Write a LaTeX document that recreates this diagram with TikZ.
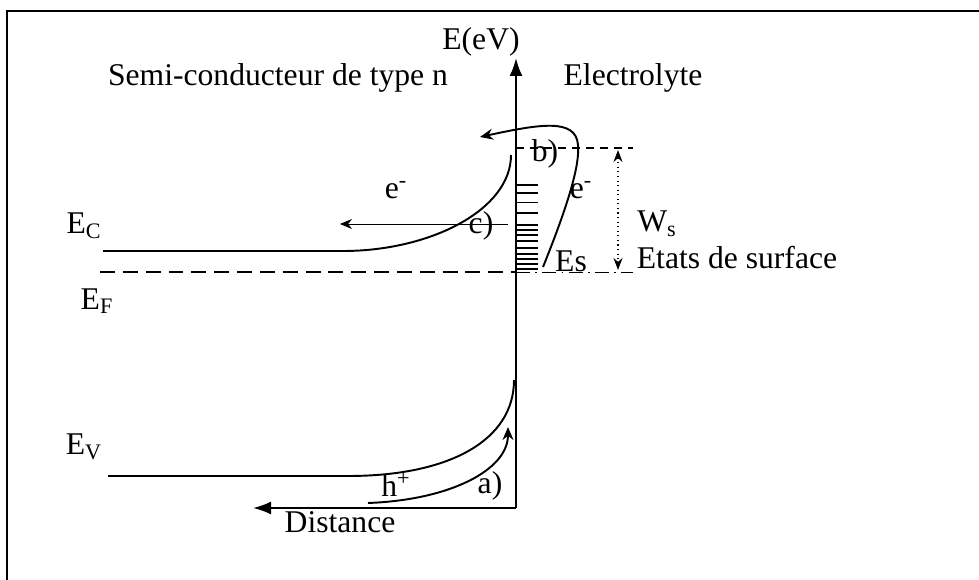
\documentclass[tikz,border=0pt]{standalone}
\usepackage{fontspec}
\setmainfont{Liberation Serif}
\usetikzlibrary{arrows.meta, positioning, calc}

\tikzset{
    lbl/.style={inner sep=0pt, font=\fontsize{18}{21}\selectfont},
    band/.style={line width=1.1pt},
    axisarrow/.style={line width=1.2pt, -{Latex[length=3.6mm,width=2.6mm]}},
    carrier/.style={line width=1.1pt, -{Stealth[length=2.6mm,width=2.2mm]}},
}

\begin{document}
\begin{tikzpicture}[x=0.02cm, y=-0.02cm]
        \useasboundingbox (0, 0) rectangle (979, 580);

        % Frame
        \draw[line width=1.2pt] (7, 600) -- (7, 11) -- (990, 11);

        % Axes
        \coordinate (origin) at (516, 508);
        \coordinate (etop) at (516, 58);
        \coordinate (dend) at (253, 508);
        \draw[axisarrow] (origin) -- (etop);
        \draw[axisarrow] (origin) -- (dend);
        \node[lbl] (eev) at (481, 42) {E(eV)};
        \node[lbl] (dist) at (340, 522) {Distance};

        % Regions
        \node[lbl] (sc) at (278, 78) {Semi-conducteur de type n};
        \node[lbl] (elec) at (633, 78) {Electrolyte};

        % Conduction band
        \coordinate (ecl) at (103, 251);
        \coordinate (ecb) at (343, 251);
        \coordinate (ecs) at (511, 155);
        \draw[band] (ecl) -- (ecb) .. controls (430, 251) and (511, 210) .. (ecs);
        \node[lbl] (ec) at (84, 226) {E\textsubscript{C}};

        % Fermi level
        \coordinate (efl) at (100, 272);
        \coordinate (efs) at (516, 272);
        \coordinate (efr) at (633, 272);
        \draw[line width=1.2pt, dash pattern=on 8.5pt off 4.5pt] (efl) -- (efs);
        \draw[line width=0.5pt, dash pattern=on 8pt off 3pt on 1pt off 3pt] (efs) -- (efr);
        \node[lbl] (ef) at (97, 301) {E\textsubscript{F}};

        % Valence band
        \coordinate (evl) at (108, 476);
        \coordinate (evb) at (348, 476);
        \coordinate (evs) at (514, 380);
        \draw[band] (evl) -- (evb) .. controls (450, 476) and (514, 440) .. (evs);
        \node[lbl] (ev) at (84, 447) {E\textsubscript{V}};

        % Surface states
        \foreach \y in {185, 193, 202.5, 213, 225, 230, 235, 241, 248, 254, 259, 264, 269}
            \draw[line width=0.9pt] (516, \y) -- (538, \y);
        \node[lbl] (es) at (571, 261) {Es};
        \node[lbl] (etats) at (737, 258) {Etats de surface};

        % Ws
        \coordinate (bl) at (516, 148);
        \coordinate (br) at (633, 148);
        \draw[line width=0.8pt, dash pattern=on 4.5pt off 3.5pt] (bl) -- (br);
        \draw[line width=0.6pt, dotted, {Stealth[length=2.4mm,width=1.8mm]}-{Stealth[length=2.4mm,width=1.8mm]}]
            (618, 150) -- (618, 270);
        \node[lbl] (ws) at (657, 224) {W\textsubscript{s}};

        % a) holes
        \coordinate (astart) at (368, 503);
        \coordinate (aend) at (508, 427);
        \draw[carrier] (astart) .. controls (450, 500) and (508, 470) .. (aend);
        \node[lbl] (hp) at (396, 485) {h\textsuperscript{+}};
        \node[lbl] (la) at (490, 486) {a)};

        % b) electrons via surface states
        \coordinate (bstart) at (543, 267);
        \coordinate (bend) at (480, 137);
        \draw[carrier] (bstart) .. controls (568, 205) and (580, 165) .. (578, 145)
            .. controls (576, 118) and (540, 124) .. (bend);
        \node[lbl] (lb) at (545, 154) {b)};
        \node[lbl] (er) at (581, 190) {e\textsuperscript{-}};

        % c) electrons
        \coordinate (cstart) at (508, 224);
        \coordinate (cend) at (340, 224);
        \draw[line width=0.5pt, -{Stealth[length=2.4mm,width=2mm]}] (cstart) -- (cend);
        \node[lbl] (lc) at (481, 226) {c)};
        \node[lbl] (el) at (396, 190) {e\textsuperscript{-}};
    \end{tikzpicture}
\end{document}
